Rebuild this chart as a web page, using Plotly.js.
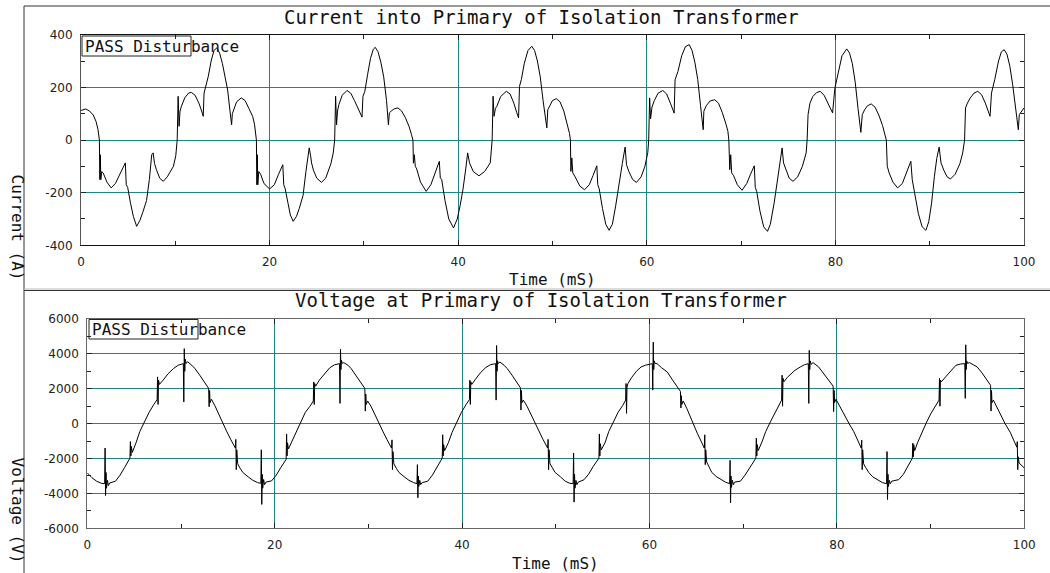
<!DOCTYPE html>
<html>
<head>
<meta charset="utf-8">
<script src="https://cdn.plot.ly/plotly-3.0.1.min.js"></script>
<style>html,body{margin:0;padding:0;background:#fff;}#chart{width:1050px;height:573px;}</style>
</head>
<body>
<div id="chart"></div>
<script>
// ---------- DATA ----------
const xTickVals = [0, 20, 40, 60, 80, 100];
const currentTickVals = [-400, -200, 0, 200, 400];
const voltageTickVals = [-6000, -4000, -2000, 0, 2000, 4000, 6000];

const titleCurrent = "Current into Primary of Isolation Transformer";
const titleVoltage = "Voltage at Primary of Isolation Transformer";
const xTitle = "Time (mS)";
const yTitleCurrent = "Current (A)";
const yTitleVoltage = "Voltage (V)";
const badgeText = "PASS Disturbance";

// current [time ms, amps]
const current0 = [[0.00,112],[0.50,118],[0.90,110],[1.30,95],[1.60,70],[1.80,40],[1.95,0],
[2.00,-150],[2.05,-56],[2.10,-151],[2.20,-120],[2.35,-125],[2.75,-160],[3.20,-182],[3.65,-165],[4.15,-125],[4.70,-87],[4.80,-170],[4.95,-180],[5.25,-240],[5.55,-290],[5.90,-328],[6.25,-305],[6.55,-275],[6.95,-230],[7.25,-150],[7.50,-56],[7.65,-49],[7.80,-90],[8.00,-113],[8.35,-145],[8.72,-157],[9.15,-140],[9.80,-100],[10.05,-60],[10.20,0]];
const current1 = [[10.30,166],[10.40,52],[10.50,110],[10.65,128],[11.00,160],[11.40,178],[11.70,181],[12.10,170],[12.50,140],[12.80,110],[12.96,90],[13.05,178],[13.20,200],[13.50,242],[13.80,300],[14.10,340],[14.40,350],[14.70,330],[15.00,290],[15.30,240],[15.55,190],[15.80,110],[15.97,58],[16.05,100],[16.20,115],[16.50,145],[17.00,160],[17.40,150],[17.80,120],[18.20,90],[18.40,60],[18.55,20],[18.60,0],
[18.65,-170],[18.70,-56],[18.75,-170],[18.85,-120],[19.05,-130],[19.40,-165],[20.00,-186],[20.50,-170],[20.95,-130],[21.40,-94],[21.50,-170],[21.65,-185],[21.95,-240],[22.20,-285],[22.50,-309],[22.85,-290],[23.15,-260],[23.55,-210],[23.85,-120],[24.20,-30],[24.35,-60],[24.45,-87],[24.65,-115],[25.00,-145],[25.50,-161],[25.95,-145],[26.50,-90],[26.75,-49],[26.90,0]];
const current2 = [[27.00,166],[27.10,58],[27.20,110],[27.35,135],[27.70,170],[28.20,188],[28.60,178],[29.00,150],[29.40,115],[29.80,87],[29.90,166],[30.10,185],[30.40,250],[30.70,310],[31.00,345],[31.20,352],[31.50,335],[31.80,295],[32.10,240],[32.40,150],[32.60,58],[32.70,103],[32.90,110],[33.20,118],[33.60,122],[34.00,110],[34.40,85],[34.80,50],[35.05,20],[35.20,0],
[35.25,-88],[35.35,-56],[35.45,-100],[35.60,-110],[36.00,-160],[36.60,-195],[37.10,-170],[37.60,-120],[38.00,-81],[38.10,-144],[38.25,-150],[38.60,-230],[39.00,-300],[39.50,-334],[39.90,-300],[40.20,-250],[40.50,-189],[40.80,-110],[41.00,-49],[41.20,-87],[41.60,-120],[42.20,-136],[42.80,-120],[43.40,-87],[43.60,0]];
const current3 = [[43.70,166],[43.80,90],[43.95,120],[44.10,128],[44.50,165],[45.10,185],[45.50,175],[45.90,140],[46.20,105],[46.40,84],[46.50,204],[46.70,230],[47.00,290],[47.40,340],[47.80,356],[48.10,340],[48.40,300],[48.70,240],[49.00,150],[49.40,46],[49.50,115],[49.70,130],[50.00,150],[50.40,157],[50.80,145],[51.20,110],[51.60,60],[51.80,25],[51.90,0],
[51.95,-119],[52.05,-68],[52.15,-125],[52.40,-140],[52.90,-175],[53.40,-189],[53.90,-170],[54.30,-135],[54.70,-98],[54.80,-170],[54.95,-185],[55.30,-260],[55.65,-320],[56.00,-343],[56.35,-320],[56.70,-250],[57.10,-151],[57.40,-90],[57.70,-27],[57.85,-94],[58.10,-120],[58.50,-150],[58.90,-161],[59.40,-140],[59.80,-100],[60.10,-49],[60.20,0]];
const current4 = [[60.30,160],[60.40,80],[60.55,125],[60.80,150],[61.20,178],[61.70,188],[62.10,175],[62.50,140],[62.90,102],[63.00,229],[63.30,260],[63.70,320],[64.10,355],[64.50,362],[64.80,340],[65.10,295],[65.40,230],[65.70,130],[65.98,39],[66.05,109],[66.30,130],[66.70,148],[67.20,153],[67.60,140],[68.00,105],[68.40,60],[68.60,33],[68.70,0],
[68.80,-113],[68.90,-56],[69.00,-125],[69.20,-135],[69.60,-170],[70.10,-191],[70.60,-165],[71.00,-130],[71.40,-98],[71.50,-180],[71.65,-195],[72.00,-270],[72.40,-330],[72.80,-347],[73.10,-320],[73.50,-240],[73.90,-138],[74.15,-70],[74.35,-30],[74.50,-87],[74.80,-120],[75.10,-145],[75.50,-157],[76.00,-140],[76.50,-100],[76.90,-49],[77.00,0]];
const current5 = [[77.10,96],[77.30,140],[77.60,165],[78.00,180],[78.40,185],[78.80,170],[79.20,140],[79.70,103],[79.95,198],[80.30,260],[80.70,320],[81.20,346],[81.50,330],[81.80,290],[82.10,220],[82.40,120],[82.70,29],[82.85,96],[83.10,115],[83.40,130],[83.80,137],[84.20,125],[84.60,95],[85.00,55],[85.25,20],[85.40,0],
[85.50,-100],[85.70,-125],[86.10,-160],[86.60,-182],[87.10,-165],[87.60,-120],[88.00,-81],[88.15,-151],[88.40,-200],[88.80,-280],[89.20,-330],[89.60,-343],[89.90,-310],[90.20,-240],[90.50,-138],[90.75,-70],[91.00,-27],[91.20,-87],[91.50,-115],[91.85,-140],[92.20,-148],[92.70,-130],[93.20,-90],[93.50,-49],[93.70,0],
[93.80,122],[94.00,140],[94.30,160],[94.70,178],[95.10,185],[95.50,172],[95.90,140],[96.40,90],[96.55,178],[96.90,230],[97.30,300],[97.60,335],[97.90,343],[98.20,325],[98.50,280],[98.80,210],[99.10,120],[99.40,39],[99.50,96],[99.75,110],[100.00,122]];

// voltage [time ms, volts]
const voltage0 = [[0.00,-2830],[0.50,-3100],[1.00,-3300],[1.50,-3420],[1.85,-3440],[1.90,-1400],[1.95,-4120],[2.00,-2800],[2.05,-3700],[2.15,-3250],[2.25,-3550],[2.40,-3400],[3.00,-3300],[3.50,-2950],[4.00,-2500],[4.55,-1980],[4.60,-1030],[4.65,-1850],[4.70,-1300],[4.80,-1650],[5.20,-1100],[5.60,-456],[6.10,100],[6.60,650],[7.10,1100],[7.45,1380],[7.50,2680],[7.55,1100],[7.60,2500],[7.70,2250],[8.10,2500],[8.60,2850],[9.20,3160],[9.70,3350],[10.25,3440],[10.30,1250],[10.35,4300],[10.40,3000],[10.45,3700],[10.55,3450],[10.70,3550],[11.15,3350],[11.50,3150],[12.00,2780],[12.50,2400],[12.95,2020],[13.00,970],[13.05,1900],[13.10,1200],[13.25,1400],[13.60,1050],[14.00,550],[14.40,60],[14.90,-470],[15.30,-900],[15.80,-1400],[15.85,-900],[15.90,-2640],[15.95,-1500],[16.05,-2300],[16.30,-2550],[16.60,-2800]];
const voltage1 = [[17.17,-3050],[17.67,-3250],[18.17,-3380],[18.52,-3420],[18.57,-1500],[18.62,-4630],[18.67,-2900],[18.72,-3700],[18.82,-3200],[18.92,-3500],[19.07,-3350],[19.67,-3280],[20.17,-2950],[20.67,-2500],[21.22,-2050],[21.27,-590],[21.32,-1850],[21.37,-1100],[21.47,-1450],[21.87,-1000],[22.27,-456],[22.77,100],[23.27,650],[23.77,1000],[24.12,1300],[24.17,2390],[24.22,1100],[24.27,2300],[24.37,2150],[24.77,2500],[25.27,2850],[25.87,3200],[26.37,3370],[26.92,3440],[26.97,1160],[27.02,4260],[27.07,3100],[27.12,3630],[27.22,3450],[27.37,3500],[27.82,3350],[28.17,3150],[28.67,2780],[29.17,2400],[29.62,2020],[29.67,720],[29.72,1700],[29.77,1100],[29.92,1300],[30.27,1000],[30.67,550],[31.07,60],[31.57,-470],[31.97,-900],[32.47,-1400],[32.52,-930],[32.57,-2640],[32.62,-1600],[32.72,-2300],[32.97,-2550],[33.27,-2800]];
const voltage2 = [[33.83,-3050],[34.33,-3250],[34.83,-3380],[35.18,-3440],[35.23,-2350],[35.28,-4250],[35.33,-3000],[35.38,-3600],[35.48,-3250],[35.58,-3500],[35.73,-3380],[36.33,-3300],[36.83,-2950],[37.33,-2500],[37.88,-1980],[37.93,-640],[37.98,-1850],[38.03,-1200],[38.13,-1550],[38.53,-1100],[38.93,-500],[39.43,100],[39.93,650],[40.43,1100],[40.78,1380],[40.83,2490],[40.88,1100],[40.93,2400],[41.03,2250],[41.43,2550],[41.93,2900],[42.53,3220],[43.03,3380],[43.58,3440],[43.63,1350],[43.68,4480],[43.73,3000],[43.78,3600],[43.88,3450],[44.03,3530],[44.48,3350],[44.83,3150],[45.33,2780],[45.83,2400],[46.23,2050],[46.28,780],[46.33,1900],[46.38,1200],[46.53,1350],[46.93,1000],[47.33,550],[47.73,60],[48.23,-470],[48.63,-900],[49.13,-1400],[49.18,-900],[49.23,-2640],[49.28,-1500],[49.38,-2300],[49.63,-2550],[49.93,-2800]];
const voltage3 = [[50.50,-3050],[51.00,-3300],[51.50,-3420],[51.85,-3440],[51.90,-1690],[51.95,-4500],[52.00,-2900],[52.05,-3700],[52.15,-3250],[52.25,-3500],[52.40,-3350],[53.00,-3220],[53.50,-2900],[54.00,-2450],[54.60,-1980],[54.65,-590],[54.70,-1850],[54.75,-1150],[54.85,-1500],[55.25,-1100],[55.65,-456],[56.15,100],[56.65,650],[57.15,1050],[57.45,1350],[57.50,2300],[57.55,590],[57.60,2100],[57.70,2300],[58.10,2650],[58.60,3000],[59.10,3250],[59.55,3350],[60.30,3440],[60.35,1920],[60.40,4670],[60.45,3100],[60.50,3600],[60.60,3450],[60.80,3440],[61.30,3200],[61.90,2960],[62.40,2550],[62.90,2150],[63.30,1850],[63.35,900],[63.40,1600],[63.45,1100],[63.60,1300],[64.00,850],[64.40,320],[64.65,0],[65.10,-550],[65.50,-1000],[65.85,-1400],[65.90,-640],[65.95,-2350],[66.00,-1500],[66.10,-2200],[66.30,-2450],[66.65,-2800]];
const voltage4 = [[67.17,-3050],[67.60,-3210],[68.10,-3350],[68.55,-3440],[68.60,-2100],[68.65,-4540],[68.70,-3000],[68.75,-3650],[68.85,-3250],[68.95,-3500],[69.10,-3350],[69.70,-3300],[70.20,-2950],[70.70,-2500],[71.35,-1980],[71.40,-830],[71.45,-1850],[71.50,-1200],[71.60,-1550],[72.00,-1050],[72.40,-456],[72.90,100],[73.40,650],[73.80,1050],[74.10,1350],[74.15,2780],[74.20,1000],[74.25,2600],[74.35,2400],[74.70,2650],[75.00,2780],[75.50,3050],[76.10,3250],[76.55,3380],[76.95,3440],[77.00,1160],[77.05,4200],[77.10,3100],[77.15,3600],[77.25,3400],[77.45,3500],[78.05,3250],[78.50,2950],[79.00,2600],[79.60,2150],[79.65,690],[79.70,1900],[79.75,1200],[79.90,1400],[80.30,1000],[80.70,550],[81.10,150],[81.30,0],[81.80,-456],[82.20,-950],[82.60,-1400],[82.65,-950],[82.70,-2640],[82.75,-1500],[82.85,-2300],[83.05,-2500],[83.40,-2800]];
const voltage5 = [[83.83,-3050],[84.30,-3210],[84.85,-3380],[85.30,-3440],[85.35,-1600],[85.40,-4350],[85.45,-2900],[85.50,-3600],[85.60,-3250],[85.70,-3450],[85.85,-3300],[86.60,-3210],[87.10,-2900],[87.60,-2450],[88.05,-1980],[88.10,-1120],[88.15,-1900],[88.20,-1200],[88.30,-1550],[88.60,-1100],[89.00,-560],[89.50,0],[90.00,550],[90.50,1000],[90.90,1350],[90.95,2590],[91.00,1000],[91.05,2500],[91.15,2400],[91.60,2680],[92.10,3000],[92.70,3345],[93.20,3420],[93.65,3440],[93.70,1450],[93.75,4520],[93.80,3100],[93.85,3600],[93.95,3450],[94.15,3500],[94.97,3250],[95.50,2900],[96.00,2500],[96.40,2200],[96.45,720],[96.50,1900],[96.55,1200],[96.70,1350],[97.10,900],[97.50,450],[97.95,0],[98.50,-500],[98.85,-950],[99.20,-1350],[99.25,-1030],[99.30,-2640],[99.35,-1900],[99.45,-2260],[99.70,-2400],[100.00,-2540]];

// ---------- BUILD ----------
const currentAll = [].concat(current0, current1, current2, current3, current4, current5);
const voltageAll = [].concat(voltage0, voltage1, voltage2, voltage3, voltage4, voltage5);

const W = 1050, H = 573;
const px = v => v / W;
const py = v => 1 - v / H;

const MONO = "DejaVu Sans Mono, monospace";
const SANS = "DejaVu Sans, Verdana, sans-serif";
const GRID = "#1f8585";

function xAxis(domain, anchor, lineColor) {
  return {
    domain: domain, anchor: anchor, range: [0, 100], fixedrange: true,
    tickmode: "array", tickvals: xTickVals, ticktext: xTickVals.map(String),
    ticks: "inside", ticklen: 5, tickcolor: "#222", ticklabelstandoff: 5,
    showgrid: true, gridcolor: GRID, gridwidth: 1, zeroline: false,
    showline: true, linecolor: lineColor, linewidth: 1, mirror: "allticks",
    minor: { dtick: 10, ticks: "inside", ticklen: 4, tickcolor: "#222", showgrid: false },
    tickfont: { family: SANS, size: 12, color: "#222" }
  };
}
function yAxis(domain, anchor, range, vals, minorStep, lineColor) {
  return {
    domain: domain, anchor: anchor, range: range, fixedrange: true,
    tickmode: "array", tickvals: vals, ticktext: vals.map(String),
    ticks: "inside", ticklen: 5, tickcolor: "#222", ticklabelstandoff: 5,
    showgrid: true, gridcolor: GRID, gridwidth: 1, zeroline: false,
    showline: true, linecolor: lineColor, linewidth: 1, mirror: "allticks",
    minor: { dtick: minorStep, ticks: "inside", ticklen: 4, tickcolor: "#222", showgrid: false },
    tickfont: { family: SANS, size: 12, color: "#222" }
  };
}

const traces = [
  { x: currentAll.map(p => p[0]), y: currentAll.map(p => p[1]), xaxis: "x", yaxis: "y",
    type: "scatter", mode: "lines", line: { color: "#000", width: 1 }, hoverinfo: "skip" },
  { x: voltageAll.map(p => p[0]), y: voltageAll.map(p => p[1]), xaxis: "x2", yaxis: "y2",
    type: "scatter", mode: "lines", line: { color: "#000", width: 1 }, hoverinfo: "skip" }
];

function ann(text, x, y, size, opts) {
  return Object.assign({ text: text, xref: "paper", yref: "paper", x: px(x), y: py(y),
    showarrow: false, xanchor: "center", yanchor: "middle",
    font: { family: MONO, size: size, color: "#111" } }, opts || {});
}

const layout = {
  width: W, height: H, margin: { l: 0, r: 0, t: 0, b: 0 },
  paper_bgcolor: "#fff", plot_bgcolor: "#fff", showlegend: false,
  xaxis: xAxis([px(81), px(1024)], "y", "#111"),
  yaxis: yAxis([py(245.3), py(34.7)], "x", [-400, 400], currentTickVals, 100, "#555"),
  xaxis2: xAxis([px(87.3), px(1024.3)], "y2", "#666"),
  yaxis2: yAxis([py(528.3), py(319)], "x2", [-6000, 6000], voltageTickVals, 1000, "#666"),
  annotations: [
    ann(titleCurrent, 541, 17, 19),
    ann(titleVoltage, 541, 300, 19),
    ann(xTitle, 552, 279, 16),
    ann(xTitle, 555, 563, 16),
    ann(yTitleCurrent, 17.5, 227, 16, { textangle: 90 }),
    ann(yTitleVoltage, 17.5, 510, 16, { textangle: 90 }),
    ann(badgeText, 83, 46, 16, { xanchor: "left" }),
    ann(badgeText, 89.5, 329, 16, { xanchor: "left" })
  ],
  shapes: [
    { type: "line", xref: "paper", yref: "paper", x0: px(24), x1: 1, y0: py(6), y1: py(6), line: { color: "#333", width: 1 } },
    { type: "line", xref: "paper", yref: "paper", x0: px(24), x1: px(24), y0: py(6), y1: 0, line: { color: "#333", width: 1 } },
    { type: "line", xref: "paper", yref: "paper", x0: px(24), x1: 1, y0: py(289), y1: py(289), line: { color: "#bbb", width: 1 } },
    { type: "line", xref: "paper", yref: "paper", x0: px(24), x1: 1, y0: py(290.5), y1: py(290.5), line: { color: "#333", width: 1 } },
    { type: "rect", xref: "paper", yref: "paper", x0: px(82), x1: px(191), y0: py(56), y1: py(36), line: { color: "#222", width: 1 }, fillcolor: "rgba(0,0,0,0)" },
    { type: "rect", xref: "paper", yref: "paper", x0: px(89), x1: px(198), y0: py(339), y1: py(319.5), line: { color: "#222", width: 1 }, fillcolor: "rgba(0,0,0,0)" }
  ]
};

Plotly.newPlot("chart", traces, layout, { staticPlot: true, displayModeBar: false });
</script>
</body>
</html>
